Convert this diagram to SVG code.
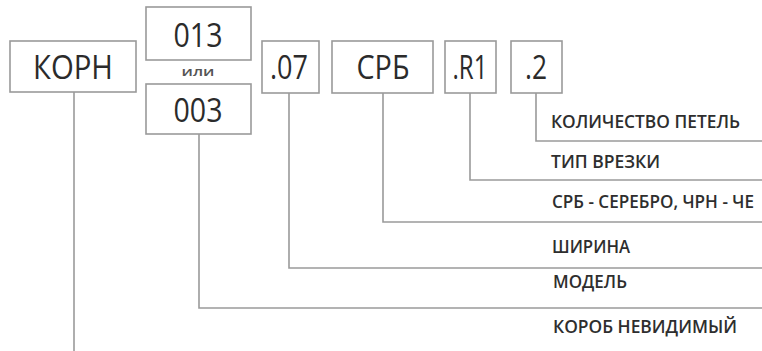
<svg xmlns="http://www.w3.org/2000/svg" width="762" height="351" viewBox="0 0 762 351">
<style>
.box{fill:#fff;stroke:#9a9a9a;stroke-width:1.6}
.code{font-family:"Open Sans","DejaVu Sans",sans-serif;font-size:33px;fill:#2b2b2b;text-anchor:middle}
.lbl{font-family:"Open Sans","DejaVu Sans",sans-serif;font-size:18.5px;fill:#2e2e2e;font-weight:600}
.ili{font-family:"Open Sans","DejaVu Sans",sans-serif;font-size:13px;fill:#555;font-weight:600;text-anchor:middle}
.con{fill:none;stroke:#9a9a9a;stroke-width:1.6}
</style>
<rect width="762" height="351" fill="#fff"/>
<g id="connectors">
<path class="con" d="M74 92 V351"/>
<path class="con" d="M199 134 V308 H762"/>
<path class="con" d="M289 93 V268 H762"/>
<path class="con" d="M383 93 V222 H762"/>
<path class="con" d="M470 93 V180 H762"/>
<path class="con" d="M536 93 V141 H762"/>
</g>
<g id="korn"><rect class="box" x="10" y="41" width="126" height="51"/><text class="code" x="73" y="79" textLength="80" lengthAdjust="spacingAndGlyphs">КОРН</text></g>
<g id="n013"><rect class="box" x="146" y="7" width="105" height="53"/><text class="code" x="198" y="47" textLength="49" lengthAdjust="spacingAndGlyphs">013</text></g>
<g id="ili"><text class="ili" x="198" y="76" textLength="33" lengthAdjust="spacingAndGlyphs">или</text></g>
<g id="n003"><rect class="box" x="146" y="84" width="105" height="50"/><text class="code" x="198" y="122" textLength="49" lengthAdjust="spacingAndGlyphs">003</text></g>
<g id="n07"><rect class="box" x="262" y="41" width="57" height="52"/><text class="code" x="289" y="79" textLength="38" lengthAdjust="spacingAndGlyphs">.07</text></g>
<g id="srb"><rect class="box" x="332" y="41" width="101" height="52"/><text class="code" x="383" y="79" textLength="53" lengthAdjust="spacingAndGlyphs">СРБ</text></g>
<g id="r1"><rect class="box" x="445" y="41" width="51" height="52"/><text class="code" x="470" y="79" textLength="35" lengthAdjust="spacingAndGlyphs">.R1</text></g>
<g id="n2"><rect class="box" x="511" y="41" width="51" height="52"/><text class="code" x="536" y="79" textLength="22" lengthAdjust="spacingAndGlyphs">.2</text></g>
<g id="labels">
<text class="lbl" x="551" y="128" textLength="189" lengthAdjust="spacingAndGlyphs">КОЛИЧЕСТВО ПЕТЕЛЬ</text>
<text class="lbl" x="551" y="168" textLength="109" lengthAdjust="spacingAndGlyphs">ТИП ВРЕЗКИ</text>
<text class="lbl" style="font-size:16px" transform="translate(552 208) scale(1 1.15)" x="0" y="0" textLength="202" lengthAdjust="spacingAndGlyphs">СРБ - СЕРЕБРО, ЧРН - ЧЕ</text>
<text class="lbl" x="552" y="253" textLength="78" lengthAdjust="spacingAndGlyphs">ШИРИНА</text>
<text class="lbl" x="553" y="288" textLength="74" lengthAdjust="spacingAndGlyphs">МОДЕЛЬ</text>
<text class="lbl" x="553" y="333" textLength="184" lengthAdjust="spacingAndGlyphs">КОРОБ НЕВИДИМЫЙ</text>
</g>
</svg>
